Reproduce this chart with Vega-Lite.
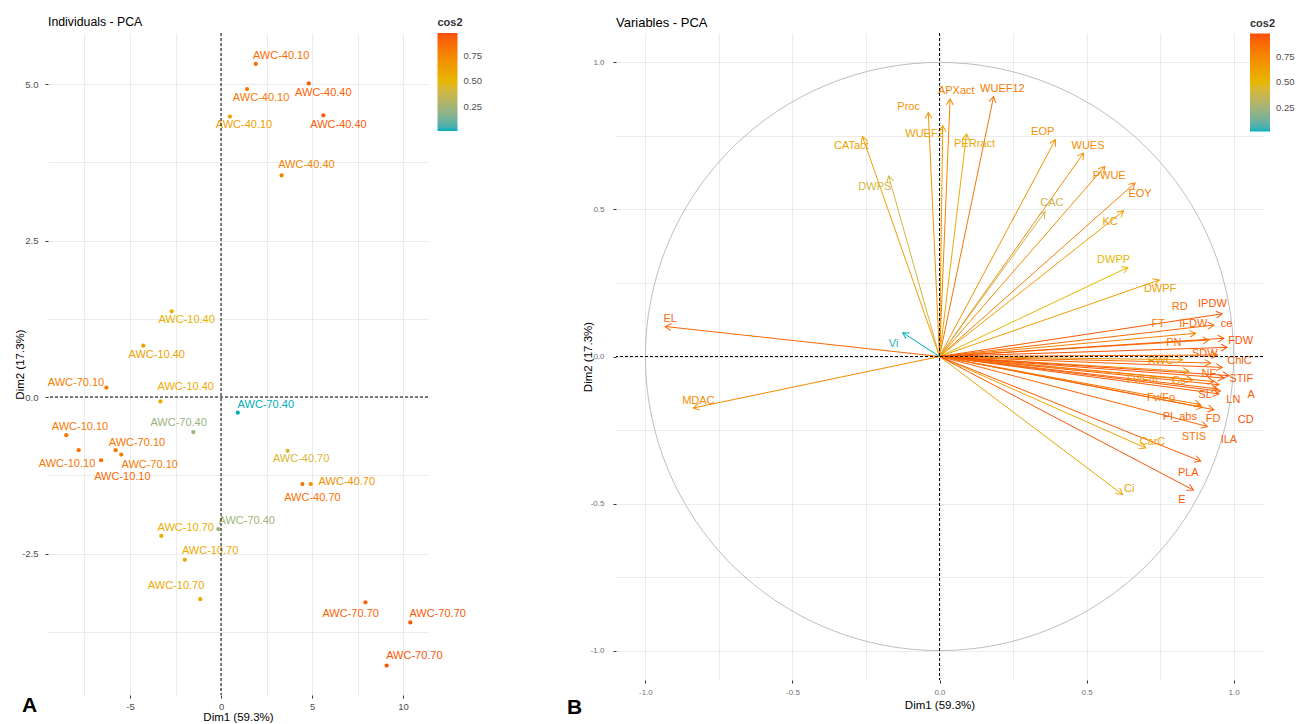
{
 "$schema": "https://vega.github.io/schema/vega-lite/v6.json",
 "background": "white",
 "padding": {"left": 14, "top": 16, "right": 5, "bottom": 0},
 "spacing": 101,
 "hconcat": [
  {
   "title": {"text": "A", "orient": "bottom", "anchor": "start", "fontSize": 21, "fontWeight": "bold", "offset": -28, "dx": -26, "color": "#000000"},
   "vconcat": [
    {
     "width": 380,
     "height": 662,
     "title": {"text": "Individuals - PCA", "fontSize": 12.3, "offset": 4},
     "data": {"values": [
      {"name": "AWC-40.10", "d1": 1.91, "d2": 5.32, "cos2": 0.86, "lx": 3.30, "ly": 5.44},
      {"name": "AWC-40.10", "d1": 1.43, "d2": 4.92, "cos2": 0.82, "lx": 2.20, "ly": 4.78},
      {"name": "AWC-40.40", "d1": 4.82, "d2": 5.01, "cos2": 0.92, "lx": 5.62, "ly": 4.86},
      {"name": "AWC-40.10", "d1": 0.49, "d2": 4.48, "cos2": 0.62, "lx": 1.26, "ly": 4.34},
      {"name": "AWC-40.40", "d1": 5.62, "d2": 4.50, "cos2": 0.93, "lx": 6.45, "ly": 4.34},
      {"name": "AWC-40.40", "d1": 3.33, "d2": 3.54, "cos2": 0.76, "lx": 4.69, "ly": 3.70},
      {"name": "AWC-10.40", "d1": -2.71, "d2": 1.37, "cos2": 0.52, "lx": -1.89, "ly": 1.23},
      {"name": "AWC-10.40", "d1": -4.27, "d2": 0.82, "cos2": 0.62, "lx": -3.53, "ly": 0.67},
      {"name": "AWC-70.10", "d1": -6.30, "d2": 0.15, "cos2": 0.80, "lx": -7.97, "ly": 0.23},
      {"name": "AWC-10.40", "d1": -3.33, "d2": -0.07, "cos2": 0.57, "lx": -1.94, "ly": 0.16},
      {"name": "AWC-70.40", "d1": 0.92, "d2": -0.25, "cos2": 0.015, "lx": 2.46, "ly": -0.13},
      {"name": "AWC-10.10", "d1": -8.50, "d2": -0.61, "cos2": 0.82, "lx": -7.75, "ly": -0.48},
      {"name": "AWC-70.40", "d1": -1.52, "d2": -0.56, "cos2": 0.22, "lx": -2.33, "ly": -0.41},
      {"name": "AWC-70.10", "d1": -5.79, "d2": -0.85, "cos2": 0.82, "lx": -4.62, "ly": -0.73},
      {"name": "AWC-10.10", "d1": -7.82, "d2": -0.85, "cos2": 0.83, "lx": -8.46, "ly": -1.07},
      {"name": "AWC-70.10", "d1": -5.48, "d2": -0.92, "cos2": 0.80, "lx": -3.92, "ly": -1.08},
      {"name": "AWC-10.10", "d1": -6.59, "d2": -1.01, "cos2": 0.88, "lx": -5.42, "ly": -1.27},
      {"name": "AWC-40.70", "d1": 3.66, "d2": -0.86, "cos2": 0.44, "lx": 4.40, "ly": -0.99},
      {"name": "AWC-40.70", "d1": 4.93, "d2": -1.39, "cos2": 0.70, "lx": 6.91, "ly": -1.36},
      {"name": "AWC-40.70", "d1": 4.47, "d2": -1.39, "cos2": 0.84, "lx": 5.02, "ly": -1.61},
      {"name": "AWC-70.40", "d1": -0.15, "d2": -2.11, "cos2": 0.24, "lx": 1.41, "ly": -1.98},
      {"name": "AWC-10.70", "d1": -3.28, "d2": -2.22, "cos2": 0.55, "lx": -1.94, "ly": -2.10},
      {"name": "AWC-10.70", "d1": -1.99, "d2": -2.60, "cos2": 0.57, "lx": -0.60, "ly": -2.46},
      {"name": "AWC-10.70", "d1": -1.14, "d2": -3.23, "cos2": 0.57, "lx": -2.47, "ly": -3.02},
      {"name": "AWC-70.70", "d1": 7.93, "d2": -3.28, "cos2": 0.90, "lx": 7.12, "ly": -3.47},
      {"name": "AWC-70.70", "d1": 10.40, "d2": -3.60, "cos2": 0.94, "lx": 11.90, "ly": -3.47},
      {"name": "AWC-70.70", "d1": 9.10, "d2": -4.29, "cos2": 0.96, "lx": 10.62, "ly": -4.14}
     ]},
     "layer": [
      {
       "mark": {"type": "circle", "size": 18, "opacity": 1},
       "encoding": {
        "x": {"field": "d1", "type": "quantitative", "title": "Dim1 (59.3%)", "scale": {"domain": [-9.505, 11.37], "nice": false, "zero": false},
         "axis": {"values": [-7.5, -5, -2.5, 0, 2.5, 5, 7.5, 10], "format": ".0f", "labelOverlap": false, "labelExpr": "abs(datum.value/5 - round(datum.value/5)) < 0.001 ? replace(datum.label, '\u2212', '-') : ''", "tickOpacity": {"condition": {"test": "abs(datum.value/5 - round(datum.value/5)) < 0.001", "value": 1}, "value": 0}, "labelFontSize": 9.5, "labelPadding": 3, "titlePadding": 1}},
        "y": {"field": "d2", "type": "quantitative", "title": "Dim2 (17.3%)", "scale": {"domain": [-4.76, 5.815], "nice": false, "zero": false},
         "axis": {"values": [-3.75, -2.5, -1.25, 0, 1.25, 2.5, 3.75, 5], "format": ".1f", "labelOverlap": false, "labelExpr": "abs(datum.value/2.5 - round(datum.value/2.5)) < 0.001 ? replace(datum.label, '\u2212', '-') : ''", "tickOpacity": {"condition": {"test": "abs(datum.value/2.5 - round(datum.value/2.5)) < 0.001", "value": 1}, "value": 0}, "labelFontSize": 9.5, "labelPadding": 7, "titlePadding": -4}},
        "fill": {"field": "cos2", "type": "quantitative",
         "scale": {"domain": [0.015, 0.495, 0.975], "range": ["#00AFBB", "#E7B800", "#FC4E07"], "interpolate": "lab"},
         "legend": {"type": "gradient", "title": "cos2", "orient": "none", "legendX": 389.5, "legendY": -16, "direction": "vertical", "values": [0.25, 0.5, 0.75], "format": ".2f", "gradientLength": 98, "gradientThickness": 20, "labelOffset": 6}}
       }
      },
      {
       "mark": {"type": "text", "fontSize": 11, "align": "center", "baseline": "middle"},
       "encoding": {
        "x": {"field": "lx", "type": "quantitative", "title": "Dim1 (59.3%)", "scale": {"domain": [-9.505, 11.37], "nice": false, "zero": false}},
        "y": {"field": "ly", "type": "quantitative", "title": "Dim2 (17.3%)", "scale": {"domain": [-4.76, 5.815], "nice": false, "zero": false}},
        "text": {"field": "name"},
        "fill": {"field": "cos2", "type": "quantitative",
         "scale": {"domain": [0.015, 0.495, 0.975], "range": ["#00AFBB", "#E7B800", "#FC4E07"], "interpolate": "lab"},
         "legend": {"type": "gradient", "title": "cos2", "orient": "none", "legendX": 389.5, "legendY": -16, "direction": "vertical", "values": [0.25, 0.5, 0.75], "format": ".2f", "gradientLength": 98, "gradientThickness": 20, "labelOffset": 6}}
       }
      },
      {
       "data": {"values": [{}]},
       "mark": {"type": "rule", "strokeDash": [3, 2], "strokeWidth": 1, "color": "#000000"},
       "encoding": {"x": {"datum": 0, "type": "quantitative"}}
      },
      {
       "data": {"values": [{}]},
       "mark": {"type": "rule", "strokeDash": [3, 2], "strokeWidth": 1, "color": "#000000"},
       "encoding": {"y": {"datum": 0, "type": "quantitative"}}
      }
     ]
    }
   ]
  },
  {
   "title": {"text": "B", "orient": "bottom", "anchor": "start", "fontSize": 21, "fontWeight": "bold", "offset": -14, "dx": -49, "color": "#000000"},
   "vconcat": [
    {
     "width": 647,
     "height": 647,
     "title": {"text": "Variables - PCA", "fontSize": 13, "offset": 3},
     "data": {"values": [
      {"name": "EL", "d1": -0.933, "d2": 0.102, "cos2": 0.88, "lx": -0.916, "ly": 0.126},
      {"name": "MDAC", "d1": -0.837, "d2": -0.175, "cos2": 0.73, "lx": -0.820, "ly": -0.150},
      {"name": "Vi", "d1": -0.125, "d2": 0.081, "cos2": 0.022, "lx": -0.156, "ly": 0.043},
      {"name": "CATact", "d1": -0.262, "d2": 0.748, "cos2": 0.63, "lx": -0.300, "ly": 0.715},
      {"name": "DWPS", "d1": -0.173, "d2": 0.614, "cos2": 0.41, "lx": -0.220, "ly": 0.576},
      {"name": "Proc", "d1": -0.038, "d2": 0.830, "cos2": 0.69, "lx": -0.105, "ly": 0.849},
      {"name": "WUEF2", "d1": 0.011, "d2": 0.785, "cos2": 0.62, "lx": -0.051, "ly": 0.757},
      {"name": "APXact", "d1": 0.036, "d2": 0.876, "cos2": 0.77, "lx": 0.057, "ly": 0.902},
      {"name": "WUEF12", "d1": 0.184, "d2": 0.884, "cos2": 0.82, "lx": 0.214, "ly": 0.908},
      {"name": "PERract", "d1": 0.092, "d2": 0.757, "cos2": 0.58, "lx": 0.119, "ly": 0.723},
      {"name": "EOP", "d1": 0.394, "d2": 0.737, "cos2": 0.70, "lx": 0.351, "ly": 0.765},
      {"name": "WUES", "d1": 0.490, "d2": 0.692, "cos2": 0.72, "lx": 0.505, "ly": 0.715},
      {"name": "PWUE", "d1": 0.562, "d2": 0.646, "cos2": 0.73, "lx": 0.577, "ly": 0.614},
      {"name": "EOY", "d1": 0.665, "d2": 0.590, "cos2": 0.79, "lx": 0.682, "ly": 0.551},
      {"name": "CAC", "d1": 0.359, "d2": 0.492, "cos2": 0.37, "lx": 0.382, "ly": 0.522},
      {"name": "KC", "d1": 0.626, "d2": 0.495, "cos2": 0.64, "lx": 0.580, "ly": 0.459},
      {"name": "DWPP", "d1": 0.641, "d2": 0.303, "cos2": 0.50, "lx": 0.592, "ly": 0.328},
      {"name": "DWPF", "d1": 0.747, "d2": 0.260, "cos2": 0.63, "lx": 0.750, "ly": 0.228},
      {"name": "IPDW", "d1": 0.961, "d2": 0.145, "cos2": 0.94, "lx": 0.928, "ly": 0.177},
      {"name": "FT", "d1": 0.871, "d2": 0.079, "cos2": 0.77, "lx": 0.744, "ly": 0.110},
      {"name": "IFDW", "d1": 0.933, "d2": 0.107, "cos2": 0.88, "lx": 0.863, "ly": 0.110},
      {"name": "RD", "d1": 0.916, "d2": 0.056, "cos2": 0.84, "lx": 0.817, "ly": 0.167},
      {"name": "ce", "d1": 0.967, "d2": 0.062, "cos2": 0.94, "lx": 0.976, "ly": 0.111},
      {"name": "FDW", "d1": 0.978, "d2": 0.031, "cos2": 0.96, "lx": 1.024, "ly": 0.054},
      {"name": "PN", "d1": 0.922, "d2": -0.022, "cos2": 0.85, "lx": 0.797, "ly": 0.045},
      {"name": "SDW", "d1": 0.945, "d2": 0.005, "cos2": 0.89, "lx": 0.902, "ly": 0.008},
      {"name": "RWC", "d1": 0.826, "d2": -0.011, "cos2": 0.68, "lx": 0.752, "ly": -0.017},
      {"name": "ChlC", "d1": 0.961, "d2": -0.037, "cos2": 0.92, "lx": 1.020, "ly": -0.014},
      {"name": "NF", "d1": 0.933, "d2": -0.085, "cos2": 0.88, "lx": 0.916, "ly": -0.059},
      {"name": "Fv/Fm", "d1": 0.848, "d2": -0.051, "cos2": 0.72, "lx": 0.690, "ly": -0.080},
      {"name": "Gs", "d1": 0.860, "d2": -0.080, "cos2": 0.75, "lx": 0.814, "ly": -0.085},
      {"name": "STIF", "d1": 0.967, "d2": -0.073, "cos2": 0.94, "lx": 1.026, "ly": -0.076},
      {"name": "SL", "d1": 0.950, "d2": -0.096, "cos2": 0.91, "lx": 0.903, "ly": -0.130},
      {"name": "A", "d1": 0.950, "d2": -0.127, "cos2": 0.92, "lx": 1.060, "ly": -0.130},
      {"name": "LN", "d1": 0.955, "d2": -0.118, "cos2": 0.93, "lx": 0.999, "ly": -0.149},
      {"name": "CD", "d1": 0.984, "d2": -0.065, "cos2": 0.97, "lx": 1.041, "ly": -0.215},
      {"name": "ILA", "d1": 0.945, "d2": -0.110, "cos2": 0.90, "lx": 0.984, "ly": -0.284},
      {"name": "Fv/Fo", "d1": 0.894, "d2": -0.173, "cos2": 0.83, "lx": 0.753, "ly": -0.141},
      {"name": "FD", "d1": 0.933, "d2": -0.181, "cos2": 0.90, "lx": 0.930, "ly": -0.211},
      {"name": "PI_abs", "d1": 0.911, "d2": -0.238, "cos2": 0.89, "lx": 0.817, "ly": -0.207},
      {"name": "STIS", "d1": 0.888, "d2": -0.164, "cos2": 0.82, "lx": 0.865, "ly": -0.275},
      {"name": "CarC", "d1": 0.701, "d2": -0.311, "cos2": 0.59, "lx": 0.724, "ly": -0.290},
      {"name": "PLA", "d1": 0.888, "d2": -0.356, "cos2": 0.92, "lx": 0.846, "ly": -0.396},
      {"name": "Ci", "d1": 0.622, "d2": -0.469, "cos2": 0.61, "lx": 0.645, "ly": -0.450},
      {"name": "E", "d1": 0.863, "d2": -0.454, "cos2": 0.95, "lx": 0.824, "ly": -0.488}
     ]},
     "layer": [
      {
       "data": {"values": [{}]},
       "mark": {"type": "point", "shape": "circle", "filled": false, "size": 345980, "strokeWidth": 1, "opacity": 1, "color": "#BEBEBE"},
       "encoding": {
        "x": {"datum": 0, "type": "quantitative", "scale": {"domain": [-1.1, 1.1], "nice": false, "zero": false}},
        "y": {"datum": 0, "type": "quantitative", "scale": {"domain": [-1.1, 1.1], "nice": false, "zero": false}}
       }
      },
      {
       "transform": [{"filter": "datum.cos2 > -1"}],
       "mark": {"type": "rule", "strokeWidth": 1},
       "encoding": {
        "x": {"field": "d1", "type": "quantitative", "title": "Dim1 (59.3%)", "scale": {"domain": [-1.1, 1.1], "nice": false, "zero": false},
         "axis": {"values": [-1, -0.75, -0.5, -0.25, 0, 0.25, 0.5, 0.75, 1], "format": ".1f", "labelOverlap": false, "labelExpr": "abs(datum.value*2 - round(datum.value*2)) < 0.001 ? replace(datum.label, '\u2212', '-') : ''", "tickOpacity": {"condition": {"test": "abs(datum.value*2 - round(datum.value*2)) < 0.001", "value": 1}, "value": 0}, "labelFontSize": 8, "labelColor": "#707070", "labelPadding": 5, "titlePadding": 3}},
        "y": {"field": "d2", "type": "quantitative", "title": "Dim2 (17.3%)", "scale": {"domain": [-1.1, 1.1], "nice": false, "zero": false},
         "axis": {"values": [-1, -0.75, -0.5, -0.25, 0, 0.25, 0.5, 0.75, 1], "format": ".1f", "labelOverlap": false, "labelExpr": "abs(datum.value*2 - round(datum.value*2)) < 0.001 ? replace(datum.label, '\u2212', '-') : ''", "tickOpacity": {"condition": {"test": "abs(datum.value*2 - round(datum.value*2)) < 0.001", "value": 1}, "value": 0}, "labelFontSize": 8, "labelColor": "#707070", "labelPadding": 9, "titlePadding": -3}},
        "x2": {"datum": 0},
        "y2": {"datum": 0},
        "stroke": {"field": "cos2", "type": "quantitative",
         "scale": {"domain": [0.0221, 0.4986, 0.9751], "range": ["#00AFBB", "#E7B800", "#FC4E07"], "interpolate": "lab"},
         "legend": {"type": "gradient", "title": "cos2", "orient": "none", "legendX": 1202, "legendY": -15.5, "direction": "vertical", "values": [0.25, 0.5, 0.75], "format": ".2f", "gradientLength": 98, "gradientThickness": 20, "labelOffset": 6}}
       }
      },
      {
       "transform": [{"filter": "datum.cos2 > -1"}],
       "mark": {"type": "point", "shape": "M-1,-0.577L0,0L-1,0.577", "filled": false, "size": 144, "strokeWidth": 1, "opacity": 1, "angle": {"expr": "-atan2(datum.d2, datum.d1) * 180 / PI"}},
       "encoding": {
        "x": {"field": "d1", "type": "quantitative", "title": "Dim1 (59.3%)", "scale": {"domain": [-1.1, 1.1], "nice": false, "zero": false}},
        "y": {"field": "d2", "type": "quantitative", "title": "Dim2 (17.3%)", "scale": {"domain": [-1.1, 1.1], "nice": false, "zero": false}},
        "stroke": {"field": "cos2", "type": "quantitative",
         "scale": {"domain": [0.0221, 0.4986, 0.9751], "range": ["#00AFBB", "#E7B800", "#FC4E07"], "interpolate": "lab"},
         "legend": {"type": "gradient", "title": "cos2", "orient": "none", "legendX": 1202, "legendY": -15.5, "direction": "vertical", "values": [0.25, 0.5, 0.75], "format": ".2f", "gradientLength": 98, "gradientThickness": 20, "labelOffset": 6}}
       }
      },
      {
       "mark": {"type": "text", "fontSize": 11, "align": "center", "baseline": "middle"},
       "encoding": {
        "x": {"field": "lx", "type": "quantitative", "title": "Dim1 (59.3%)", "scale": {"domain": [-1.1, 1.1], "nice": false, "zero": false}},
        "y": {"field": "ly", "type": "quantitative", "title": "Dim2 (17.3%)", "scale": {"domain": [-1.1, 1.1], "nice": false, "zero": false}},
        "text": {"field": "name"},
        "fill": {"field": "cos2", "type": "quantitative",
         "scale": {"domain": [0.022, 0.4985, 0.975], "range": ["#00AFBB", "#E7B800", "#FC4E07"], "interpolate": "lab"},
         "legend": {"type": "gradient", "title": "cos2", "orient": "none", "legendX": 1202, "legendY": -15.5, "direction": "vertical", "values": [0.25, 0.5, 0.75], "format": ".2f", "gradientLength": 98, "gradientThickness": 20, "labelOffset": 6}}
       }
      },
      {
       "data": {"values": [{}]},
       "mark": {"type": "rule", "strokeDash": [3, 2], "strokeWidth": 1, "color": "#000000"},
       "encoding": {"x": {"datum": 0, "type": "quantitative"}}
      },
      {
       "data": {"values": [{}]},
       "mark": {"type": "rule", "strokeDash": [3, 2], "strokeWidth": 1, "color": "#000000"},
       "encoding": {"y": {"datum": 0, "type": "quantitative"}}
      }
     ]
    }
   ]
  }
 ],
 "config": {
  "font": "Liberation Sans",
  "view": {"stroke": null},
  "axis": {"domain": false, "grid": true, "gridColor": "#EBEBEB", "gridWidth": 1, "tickColor": "#333333", "tickSize": 3, "labelColor": "#4D4D4D", "titleFontSize": 11.5, "titleFontWeight": "normal", "titleColor": "#000000"},
  "legend": {"titleFontSize": 11, "titleFontWeight": "bold", "titleColor": "#333333", "labelFontSize": 9.5, "labelColor": "#4D4D4D", "gradientStrokeWidth": 0, "titlePadding": 5},
  "title": {"fontWeight": "normal", "anchor": "start", "color": "#000000", "frame": "group"}
 }
}
